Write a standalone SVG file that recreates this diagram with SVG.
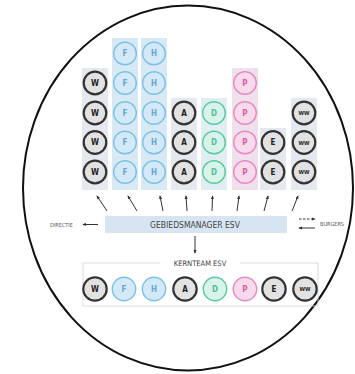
<svg xmlns="http://www.w3.org/2000/svg" width="355" height="374" viewBox="0 0 355 374">
<defs>
<marker id="ah" viewBox="0 0 10 10" refX="8" refY="5" markerWidth="4" markerHeight="4" orient="auto-start-reverse"><path d="M0,1 L10,5 L0,9 z" fill="#333"/></marker>
<style>
text{font-family:"DejaVu Sans Condensed","Liberation Sans",Arial,sans-serif;}
.k circle{fill:#e2e2e2;stroke:#333;stroke-width:2.2}
.k text{fill:#222}
.b circle{fill:#d3e9f8;stroke:#7cc0e6;stroke-width:1.4}
.b text{fill:#6aa6cf}
.g circle{fill:#d8f3e9;stroke:#58c9a0;stroke-width:1.4}
.g text{fill:#55be98}
.p circle{fill:#f9d9ec;stroke:#e48ac0;stroke-width:1.4}
.p text{fill:#d05fa2}
.n text{font-size:8px;font-weight:bold;text-anchor:middle;dominant-baseline:central}
.n text.s{font-size:5.5px}
.bgk{fill:#e5e8ee}.bgb{fill:#d8e9f6}.bgg{fill:#e0eef3}.bgp{fill:#efe0ec}
.lbl{font-size:8.5px;fill:#444;text-anchor:middle;dominant-baseline:central}
.sm{font-size:5.5px;fill:#555;dominant-baseline:central}
.ar{stroke:#333;stroke-width:1;fill:none;marker-end:url(#ah)}
</style>
</defs>
<rect width="355" height="374" fill="#fff"/>
<ellipse cx="188" cy="188" rx="165" ry="182.5" fill="none" stroke="#111" stroke-width="2"/>

<g id="columns-bg">
<rect class="bgk" x="82" y="68" width="26" height="122"/>
<rect class="bgb" x="112" y="38" width="26" height="152"/>
<rect class="bgb" x="141" y="38" width="26" height="152"/>
<rect class="bgk" x="171" y="98" width="26" height="92"/>
<rect class="bgg" x="201" y="98" width="26" height="92"/>
<rect class="bgp" x="232" y="68" width="26" height="122"/>
<rect class="bgk" x="260" y="128" width="26" height="62"/>
<rect class="bgk" x="291" y="98" width="26" height="92"/>
</g>

<g id="col-W" class="n k">
<circle cx="95" cy="83" r="11.3"/><text x="95" y="83">W</text>
<circle cx="95" cy="113" r="11.3"/><text x="95" y="113">W</text>
<circle cx="95" cy="142.5" r="11.3"/><text x="95" y="142.5">W</text>
<circle cx="95" cy="172" r="11.3"/><text x="95" y="172">W</text>
</g>
<g id="col-F" class="n b">
<circle cx="125" cy="53.5" r="11.3"/><text x="125" y="53.5">F</text>
<circle cx="125" cy="83" r="11.3"/><text x="125" y="83">F</text>
<circle cx="125" cy="113" r="11.3"/><text x="125" y="113">F</text>
<circle cx="125" cy="142.5" r="11.3"/><text x="125" y="142.5">F</text>
<circle cx="125" cy="172" r="11.3"/><text x="125" y="172">F</text>
</g>
<g id="col-H" class="n b">
<circle cx="154" cy="53.5" r="11.3"/><text x="154" y="53.5">H</text>
<circle cx="154" cy="83" r="11.3"/><text x="154" y="83">H</text>
<circle cx="154" cy="113" r="11.3"/><text x="154" y="113">H</text>
<circle cx="154" cy="142.5" r="11.3"/><text x="154" y="142.5">H</text>
<circle cx="154" cy="172" r="11.3"/><text x="154" y="172">H</text>
</g>
<g id="col-A" class="n k">
<circle cx="184" cy="113" r="11.3"/><text x="184" y="113">A</text>
<circle cx="184" cy="142.5" r="11.3"/><text x="184" y="142.5">A</text>
<circle cx="184" cy="172" r="11.3"/><text x="184" y="172">A</text>
</g>
<g id="col-D" class="n g">
<circle cx="214" cy="113" r="11.3"/><text x="214" y="113">D</text>
<circle cx="214" cy="142.5" r="11.3"/><text x="214" y="142.5">D</text>
<circle cx="214" cy="172" r="11.3"/><text x="214" y="172">D</text>
</g>
<g id="col-P" class="n p">
<circle cx="245" cy="83" r="11.3"/><text x="245" y="83">P</text>
<circle cx="245" cy="113" r="11.3"/><text x="245" y="113">P</text>
<circle cx="245" cy="142.5" r="11.3"/><text x="245" y="142.5">P</text>
<circle cx="245" cy="172" r="11.3"/><text x="245" y="172">P</text>
</g>
<g id="col-E" class="n k">
<circle cx="273" cy="142.5" r="11.3"/><text x="273" y="142.5">E</text>
<circle cx="273" cy="172" r="11.3"/><text x="273" y="172">E</text>
</g>
<g id="col-WW" class="n k">
<circle cx="304" cy="113" r="11.3"/><text class="s" x="304" y="113">WW</text>
<circle cx="304" cy="142.5" r="11.3"/><text class="s" x="304" y="142.5">WW</text>
<circle cx="304" cy="172" r="11.3"/><text class="s" x="304" y="172">WW</text>
</g>

<g id="gebiedsmanager">
<rect x="105" y="216" width="182" height="17" fill="#d6e5f1"/>
<text class="lbl" x="195" y="225">GEBIEDSMANAGER ESV</text>
</g>
<g id="left-label"><text class="sm" x="50" y="224.5">DIRECTIE</text></g>
<g id="right-label"><text class="sm" x="320" y="223.5">BURGERS</text></g>

<g id="kernteam">
<path d="M160,263 H83 V306 H318 V263 H240" fill="none" stroke="#cfd3d8" stroke-width="0.8"/>
<text class="lbl" x="200" y="263" style="font-size:7.5px">KERNTEAM ESV</text>
<g class="n k"><circle cx="95" cy="289" r="11.7"/><text x="95" y="289">W</text></g>
<g class="n b"><circle cx="124" cy="289" r="11.7"/><text x="124" y="289">F</text></g>
<g class="n b"><circle cx="154" cy="289" r="11.7"/><text x="154" y="289">H</text></g>
<g class="n k"><circle cx="185" cy="289" r="11.7"/><text x="185" y="289">A</text></g>
<g class="n g"><circle cx="215" cy="289" r="11.7"/><text x="215" y="289">D</text></g>
<g class="n p"><circle cx="245" cy="289" r="11.7"/><text x="245" y="289">P</text></g>
<g class="n k"><circle cx="274" cy="289" r="11.7"/><text x="274" y="289">E</text></g>
<g class="n k"><circle cx="305" cy="289" r="11.7"/><text class="s" x="305" y="289">WW</text></g>
</g>

<g id="connectors">
<line class="ar" x1="107" y1="211" x2="97" y2="196"/>
<line class="ar" x1="137" y1="211" x2="128" y2="196"/>
<line class="ar" x1="163" y1="211" x2="160" y2="196"/>
<line class="ar" x1="187" y1="211" x2="186" y2="196"/>
<line class="ar" x1="212" y1="211" x2="212.5" y2="196"/>
<line class="ar" x1="237" y1="211" x2="239" y2="196"/>
<line class="ar" x1="264" y1="211" x2="268" y2="196"/>
<line class="ar" x1="292" y1="211" x2="298" y2="196"/>
<line class="ar" x1="98" y1="224.5" x2="83" y2="224.5"/>
<line class="ar" x1="299" y1="219" x2="315" y2="219" stroke-dasharray="2.5,1.5"/>
<line class="ar" x1="315" y1="228" x2="299" y2="228"/>
<line class="ar" x1="195" y1="236" x2="195" y2="253"/>
</g>
</svg>
